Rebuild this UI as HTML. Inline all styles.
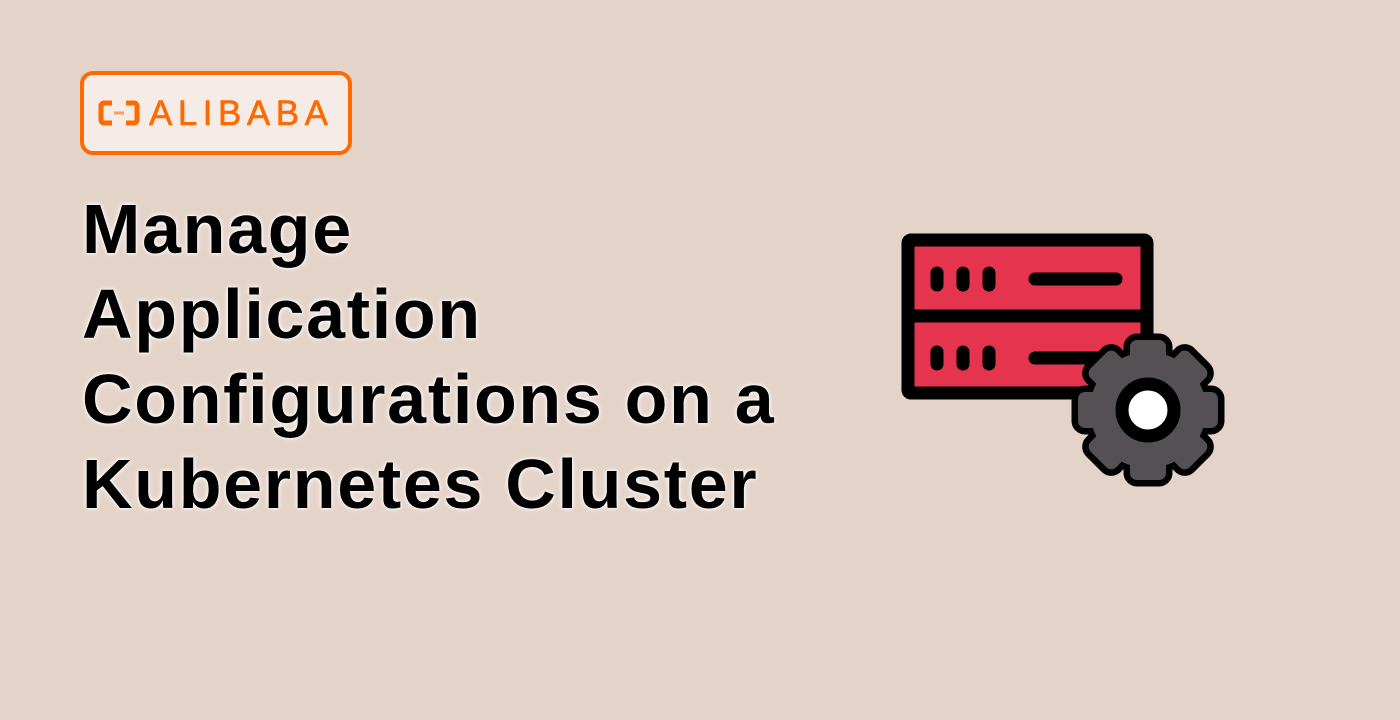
<!DOCTYPE html>
<html><head><style>
html,body{margin:0;padding:0}
body{width:1400px;height:720px;background:#E4D3C8;position:relative;overflow:hidden;font-family:"Liberation Sans",sans-serif}
.badge{position:absolute;left:80px;top:71px;width:264px;height:76px;border:4px solid #FF6A00;border-radius:13px;background:#F5ECE8}
.badge span{position:absolute;left:65px;top:19px;font-size:35px;color:#FF6A00;letter-spacing:5.5px;line-height:40px;-webkit-text-stroke:0.6px #FF6A00}
.title{position:absolute;left:82px;top:187px;font-size:70px;font-weight:bold;line-height:85px;letter-spacing:1.7px;color:#000;text-shadow:0 0 6px #fff,0 0 3px #fff;white-space:nowrap}
</style></head><body>
<div class="badge">
<svg style="position:absolute;left:14px;top:24px" width="42" height="28" viewBox="0 0 42 28">
<path d="M14 4H6a3 3 0 0 0-3 3v14a3 3 0 0 0 3 3h8M28 4h8a3 3 0 0 1 3 3v14a3 3 0 0 1-3 3h-8" fill="none" stroke="#FF6A00" stroke-width="5"/>
<rect x="16" y="12.5" width="10" height="3" fill="#FF6A00" opacity=".6"/>
</svg>
<span>ALIBABA</span></div>
<div class="title">Manage<br>Application<br>Configurations on a<br>Kubernetes Cluster</div>
<svg style="position:absolute;left:0;top:0" width="1400" height="720">
<rect x="908" y="240" width="239" height="153" rx="3" fill="#E5344E" stroke="#000" stroke-width="13" stroke-linejoin="round"/>
<line x1="908" y1="316" x2="1147" y2="316" stroke="#000" stroke-width="13"/>
<g stroke="#000" stroke-width="13" stroke-linecap="round">
<line x1="937" y1="273" x2="937" y2="285"/><line x1="963" y1="273" x2="963" y2="285"/><line x1="989" y1="273" x2="989" y2="285"/>
<line x1="1035" y1="279" x2="1116" y2="279"/>
<line x1="937" y1="352" x2="937" y2="364"/><line x1="963" y1="352" x2="963" y2="364"/><line x1="989" y1="352" x2="989" y2="364"/>
<line x1="1035" y1="358" x2="1116" y2="358"/>
</g>
<g transform="translate(1148,410)">
<g stroke="#000" stroke-width="13" stroke-linejoin="round">
<circle r="58"/>
<g id="t"><rect x="-18" y="-70" width="36" height="24" rx="7"/></g>
<use href="#t" transform="rotate(45)"/><use href="#t" transform="rotate(90)"/><use href="#t" transform="rotate(135)"/>
<use href="#t" transform="rotate(180)"/><use href="#t" transform="rotate(225)"/><use href="#t" transform="rotate(270)"/><use href="#t" transform="rotate(315)"/>
</g>
<g fill="#545054">
<circle r="58"/>
<g id="t2"><rect x="-18" y="-70" width="36" height="28" rx="7"/></g>
<use href="#t2" transform="rotate(45)"/><use href="#t2" transform="rotate(90)"/><use href="#t2" transform="rotate(135)"/>
<use href="#t2" transform="rotate(180)"/><use href="#t2" transform="rotate(225)"/><use href="#t2" transform="rotate(270)"/><use href="#t2" transform="rotate(315)"/>
</g>
<circle r="26" fill="#fff" stroke="#000" stroke-width="13"/>
</g>
</svg>
</body></html>
